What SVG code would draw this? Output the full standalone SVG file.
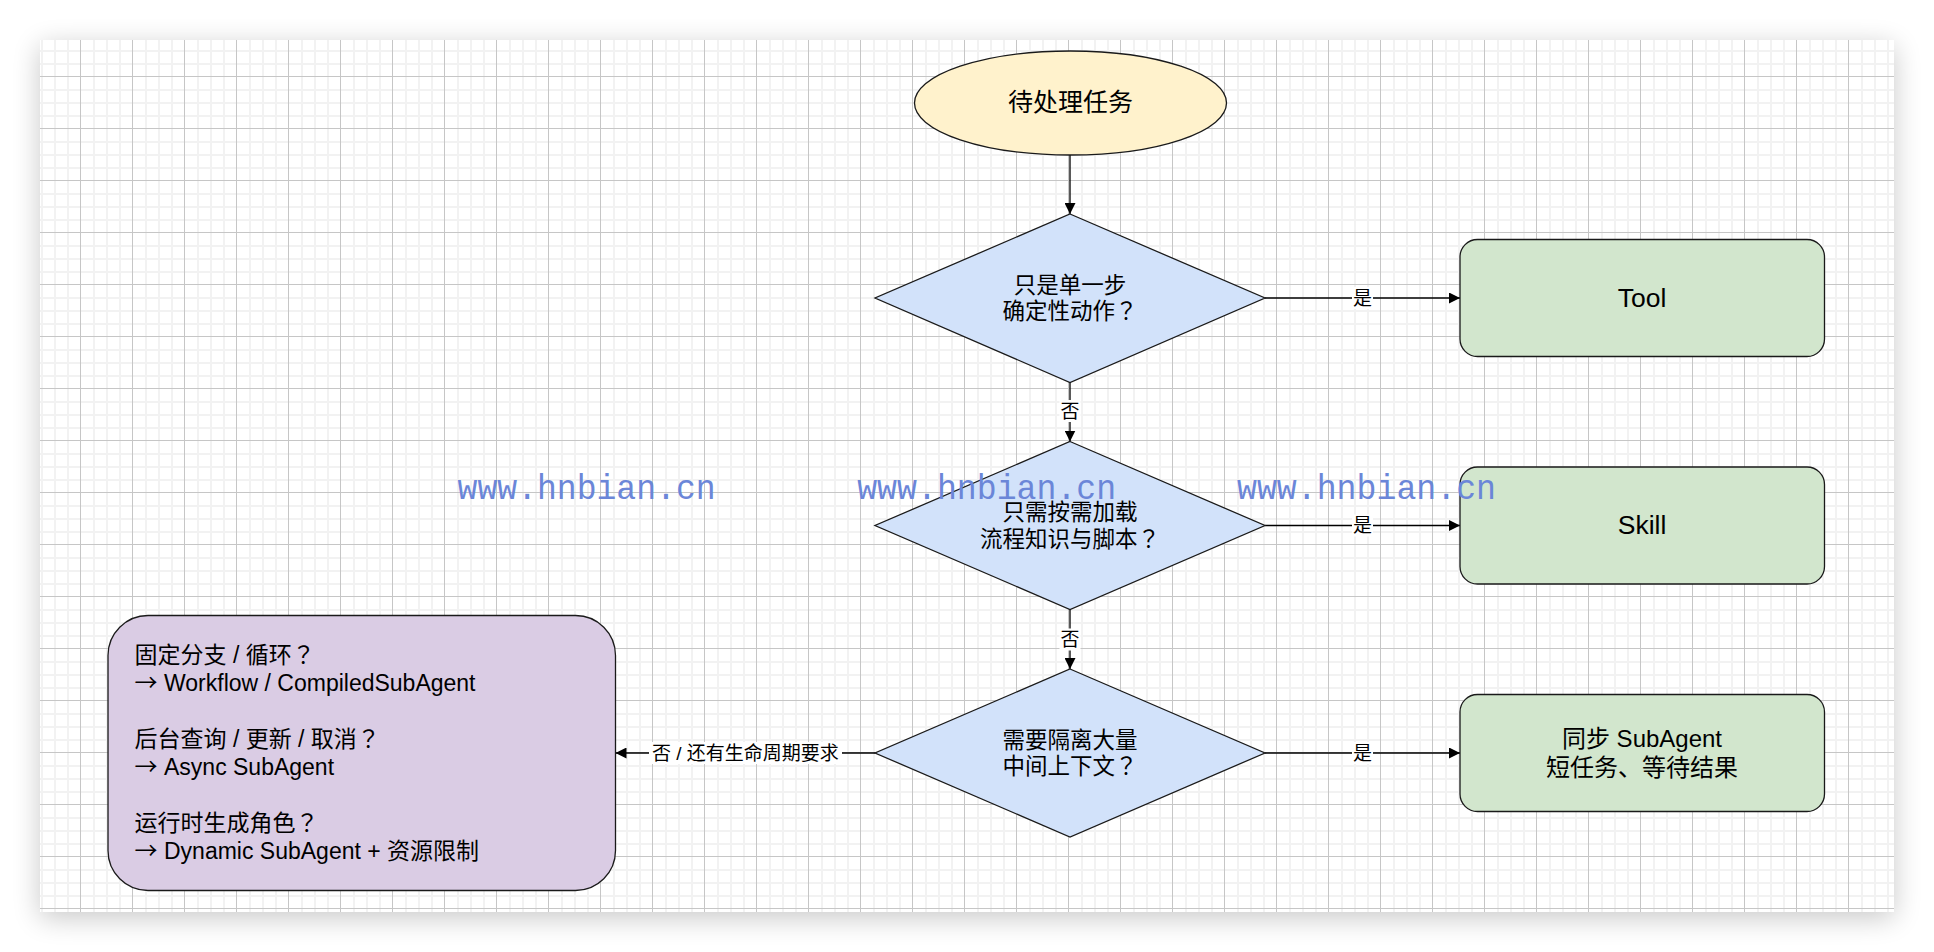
<svg xmlns="http://www.w3.org/2000/svg" width="1934" height="952" viewBox="0 0 1934 952">
  <defs>
    <style>
      text { font-family: "Liberation Sans", "Noto Sans CJK SC", sans-serif; fill: #000; }
      .q { font-family: "Noto Sans CJK TC", "Noto Sans CJK SC", sans-serif; }
      .ar { font-family: "Noto Sans CJK SC", sans-serif; }
      .shape { stroke: #1a1a1a; stroke-width: 1.3; }
      .ellipse { fill: #fff2cc; }
      .diamond { fill: #d2e2fa; }
      .green { fill: #d2e6cd; }
      .purple { fill: #dacce4; }
      .edge { fill: none; stroke: #000; stroke-width: 1.3; marker-end: url(#arrow); }
      .lbl-bg { fill: #fff; }
      .lbl { font-size: 19px; text-anchor: middle; }
      .t22 { font-size: 22.5px; text-anchor: middle; }
      .s22 { font-size: 22.5px; }
      .t24 { font-size: 24px; text-anchor: middle; }
      .t25 { font-size: 25px; text-anchor: middle; }
      .t26 { font-size: 26.5px; text-anchor: middle; }
      .t23 { font-size: 23px; }
      .wm { font-family: "Liberation Mono", "DejaVu Sans Mono", monospace; font-size: 35px; fill: #6b86d8; }
    </style>
    <pattern id="grid" x="28" y="24" width="52" height="52" patternUnits="userSpaceOnUse">
      <rect x="0" y="0" width="52" height="52" fill="#ffffff"/>
      <rect x="13" y="0" width="2" height="52" fill="#f2f2f2"/>
      <rect x="26" y="0" width="2" height="52" fill="#f2f2f2"/>
      <rect x="39" y="0" width="2" height="52" fill="#f2f2f2"/>
      <rect x="0" y="13" width="52" height="2" fill="#f2f2f2"/>
      <rect x="0" y="26" width="52" height="2" fill="#f2f2f2"/>
      <rect x="0" y="39" width="52" height="2" fill="#f2f2f2"/>
      <rect x="0" y="0" width="1" height="52" fill="#c6c6c6"/>
      <rect x="0" y="0" width="52" height="1" fill="#c6c6c6"/>
    </pattern>
    <filter id="pageShadow" x="-5%" y="-8%" width="110%" height="116%">
      <feGaussianBlur in="SourceAlpha" stdDeviation="14"/>
      <feOffset dx="0" dy="6" result="b"/>
      <feComponentTransfer in="b" result="s">
        <feFuncA type="linear" slope="0.22"/>
      </feComponentTransfer>
      <feMerge>
        <feMergeNode in="s"/>
        <feMergeNode in="SourceGraphic"/>
      </feMerge>
    </filter>
    <marker id="arrow" viewBox="0 0 11 11" refX="11" refY="5.5" markerWidth="11" markerHeight="11" markerUnits="userSpaceOnUse" orient="auto">
      <path d="M0,0 L11,5.5 L0,11 Z" fill="#000"/>
    </marker>
  </defs>

  <!-- page background -->
  <rect x="0" y="0" width="1934" height="952" fill="#ffffff"/>
  <rect x="40" y="40" width="1854" height="872" fill="#ffffff" filter="url(#pageShadow)"/>
  <rect x="40" y="40" width="1854" height="872" fill="url(#grid)"/>

  <!-- connectors -->
  <g id="connectors">
    <line class="edge" x1="1070" y1="155" x2="1070" y2="214"/>
    <line class="edge" x1="1265" y1="298" x2="1460" y2="298"/>
    <line class="edge" x1="1070" y1="382.5" x2="1070" y2="441.5"/>
    <line class="edge" x1="1265" y1="525.5" x2="1460" y2="525.5"/>
    <line class="edge" x1="1070" y1="609.5" x2="1070" y2="669"/>
    <line class="edge" x1="1265" y1="753" x2="1460" y2="753"/>
    <line class="edge" x1="875" y1="753" x2="615.5" y2="753"/>

    <rect class="lbl-bg" x="1352" y="287" width="21" height="22"/>
    <text class="lbl" x="1362.5" y="304.5">是</text>
    <rect class="lbl-bg" x="1352" y="514.5" width="21" height="22"/>
    <text class="lbl" x="1362.5" y="532">是</text>
    <rect class="lbl-bg" x="1352" y="742" width="21" height="22"/>
    <text class="lbl" x="1362.5" y="759.5">是</text>
    <rect class="lbl-bg" x="1059.5" y="400" width="21" height="22"/>
    <text class="lbl" x="1070" y="417.5">否</text>
    <rect class="lbl-bg" x="1059.5" y="628.5" width="21" height="22"/>
    <text class="lbl" x="1070" y="646">否</text>
    <rect class="lbl-bg" x="649" y="742" width="193" height="22"/>
    <text class="lbl" x="745.4" y="759.5">否 / 还有生命周期要求</text>
  </g>

  <!-- nodes -->
  <g id="start">
    <ellipse class="shape ellipse" cx="1070.5" cy="103" rx="156" ry="52"/>
    <text class="t25" x="1070.5" y="111">待处理任务</text>
  </g>

  <g id="decision1">
    <polygon class="shape diamond" points="1070,214 1265,298 1070,382.5 875,298"/>
    <text class="t22" x="1070" y="292.5">只是单一步</text>
    <text class="s22" x="1002.5" y="319">确定性动作</text>
    <text class="s22 q" x="1115" y="319">？</text>
  </g>

  <g id="decision2">
    <polygon class="shape diamond" points="1070,441.5 1265,525.5 1070,609.5 875,525.5"/>
    <text class="t22" x="1070" y="520">只需按需加载</text>
    <text class="s22" x="980" y="546.5">流程知识与脚本</text>
    <text class="s22 q" x="1137.5" y="546.5">？</text>
  </g>

  <g id="decision3">
    <polygon class="shape diamond" points="1070,669 1265,753 1070,837 875,753"/>
    <text class="t22" x="1070" y="747.5">需要隔离大量</text>
    <text class="s22" x="1002.5" y="774">中间上下文</text>
    <text class="s22 q" x="1115" y="774">？</text>
  </g>

  <g id="tool">
    <rect class="shape green" x="1460" y="239.5" width="364.5" height="117" rx="17.5" ry="17.5"/>
    <text class="t26" x="1642" y="307">Tool</text>
  </g>

  <g id="skill">
    <rect class="shape green" x="1460" y="467" width="364.5" height="117" rx="17.5" ry="17.5"/>
    <text class="t26" x="1642" y="534">Skill</text>
  </g>

  <g id="sync-subagent">
    <rect class="shape green" x="1460" y="694.5" width="364.5" height="117" rx="17.5" ry="17.5"/>
    <text class="t24" x="1642" y="747">同步 SubAgent</text>
    <text class="t24" x="1642" y="776">短任务、等待结果</text>
  </g>

  <g id="other-options">
    <rect class="shape purple" x="108" y="615.5" width="507.5" height="275" rx="40" ry="40"/>
    <text class="t23" x="134.5" y="663">固定分支 / 循环</text>
    <text class="t23 q" x="292" y="663">？</text>
    <text class="t23 ar" x="134.5" y="691">→</text>
    <text class="t23" x="164" y="691">Workflow / CompiledSubAgent</text>
    <text class="t23" x="134.5" y="747">后台查询 / 更新 / 取消</text>
    <text class="t23 q" x="357" y="747">？</text>
    <text class="t23 ar" x="134.5" y="775">→</text>
    <text class="t23" x="164" y="775">Async SubAgent</text>
    <text class="t23" x="134.5" y="831">运行时生成角色</text>
    <text class="t23 q" x="295.5" y="831">？</text>
    <text class="t23 ar" x="134.5" y="859">→</text>
    <text class="t23" x="164" y="859">Dynamic SubAgent + 资源限制</text>
  </g>

  <!-- watermarks -->
  <g id="watermarks">
    <text class="wm" x="457.6" y="499" textLength="258" lengthAdjust="spacingAndGlyphs">www.hnbian.cn</text>
    <text class="wm" x="857.2" y="499" textLength="259" lengthAdjust="spacingAndGlyphs">www.hnbian.cn</text>
    <text class="wm" x="1237" y="499" textLength="259" lengthAdjust="spacingAndGlyphs">www.hnbian.cn</text>
  </g>
</svg>
